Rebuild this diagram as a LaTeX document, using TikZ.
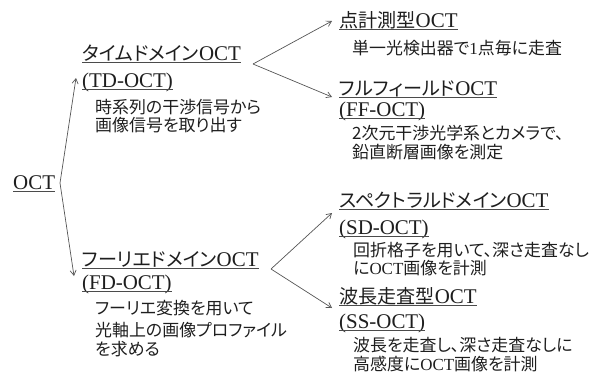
\documentclass[tikz,border=0pt]{standalone}
\usepackage{fontspec}
\setmainfont{Liberation Serif}
\newfontfamily\jp[RawFeature=+palt]{Noto Sans CJK JP}
\newcommand\hjp[1]{{\jp\fontsize{19.2}{19.2}\selectfont #1}}
\usetikzlibrary{arrows.meta}
\definecolor{txt}{HTML}{1E1E1E}
\definecolor{lin}{HTML}{555555}
\tikzset{
  title/.style={inner sep=0pt, anchor=base west, text=txt, font=\fontsize{21}{21}\selectfont},
  desc/.style={inner sep=0pt, anchor=base west, text=txt, font=\fontsize{17}{17}\selectfont\jp},
  ul/.style={draw=txt!80, line width=0.9bp},
  arr/.style={draw=lin, line width=0.7bp, -{Straight Barb[length=5bp,width=6bp]}}
}
\begin{document}
\begin{tikzpicture}[x=1bp,y=-1bp]
\useasboundingbox (0,0) rectangle (597,374);
\node[title] (oct) at (13,189) {OCT};
\node[title] (td) at (82,60) {\hjp{タイムドメイン}OCT};
\node[title] (tdab) at (82,87) {(TD-OCT)};
\node[desc] (td1) at (95,113) {時系列の干渉信号から};
\node[desc] (td2) at (95,131) {画像信号を取り出す};
\node[title] (pt) at (339,27) {\hjp{点計測型}OCT};
\node[desc] (pt1) at (352,54) {単一光検出器で{\rmfamily 1}点毎に走査};
\node[title] (ff) at (339,95) {\hjp{フルフィールド}OCT};
\node[title] (ffab) at (339,116) {(FF-OCT)};
\node[desc] (ff1) at (352,139) {2次元干渉光学系とカメラで、};
\node[desc] (ff2) at (352,158) {鉛直断層画像を測定};
\node[title] (fd) at (82,266) {\hjp{フーリエドメイン}OCT};
\node[title] (fdab) at (82,289) {(FD-OCT)};
\node[desc] (fd1) at (95,314) {フーリエ変換を用いて};
\node[desc] (fd2) at (95,336) {光軸上の画像プロファイル};
\node[desc] (fd3) at (95,355) {を求める};
\node[title] (sd) at (339,207) {\hjp{スペクトラルドメイン}OCT};
\node[title] (sdab) at (339,234) {(SD-OCT)};
\node[desc] (sd1) at (353,256) {回折格子を用いて、深さ走査なし};
\node[desc] (sd2) at (353,274) {に{\rmfamily OCT}画像を計測};
\node[title] (ss) at (339,303) {\hjp{波長走査型}OCT};
\node[title] (ssab) at (339,328) {(SS-OCT)};
\node[desc] (ss1) at (353,351) {波長を走査し、深さ走査なしに};
\node[desc] (ss2) at (353,370) {高感度に{\rmfamily OCT}画像を計測};
\foreach \n in {oct,td,tdab,pt,ff,ffab,fd,fdab,sd,sdab,ss,ssab}
  \draw[ul] ([yshift=-2.5bp]\n.base west) -- ([yshift=-2.5bp]\n.base east);
\coordinate (v0) at (60,183);
\coordinate (v0a) at (76,78);
\coordinate (v0b) at (74,276);
\coordinate (v1) at (253,64);
\coordinate (v1a) at (332,21);
\coordinate (v1b) at (332,97);
\coordinate (v2) at (271,269);
\coordinate (v2a) at (332,213);
\coordinate (v2b) at (332,308);
\draw[arr] (v0) -- (v0a);
\draw[arr] (v0) -- (v0b);
\draw[arr] (v1) -- (v1a);
\draw[arr] (v1) -- (v1b);
\draw[arr] (v2) -- (v2a);
\draw[arr] (v2) -- (v2b);
\end{tikzpicture}
\end{document}
